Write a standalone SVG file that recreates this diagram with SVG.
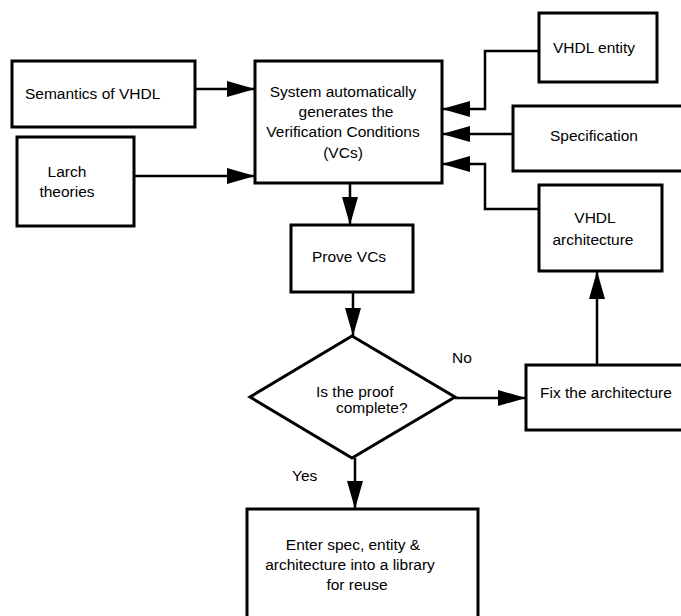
<svg xmlns="http://www.w3.org/2000/svg" width="681" height="616" viewBox="0 0 681 616">
<defs>
<style>
.box{fill:#fff;stroke:#000;stroke-width:3}
.ln{fill:none;stroke:#000;stroke-width:2.5}
text{font-family:"Liberation Sans",Arial,sans-serif;font-size:15.5px;fill:#000}
.c{text-anchor:middle}
</style>
<marker id="ah" viewBox="0 0 28 16" refX="28" refY="8" markerWidth="28" markerHeight="16" markerUnits="userSpaceOnUse" orient="auto">
<path d="M0,0 L28,8 L0,16 Z" fill="#000"/>
</marker>
</defs>
<rect width="681" height="616" fill="#fff"/>
<g id="connectors">
<path class="ln" d="M195,89 H255" marker-end="url(#ah)"/>
<path class="ln" d="M134,176 H255" marker-end="url(#ah)"/>
<path class="ln" d="M539,51 H485 V109 H442" marker-end="url(#ah)"/>
<path class="ln" d="M513,134 H442" marker-end="url(#ah)"/>
<path class="ln" d="M539,209 H485 V164 H442" marker-end="url(#ah)"/>
<path class="ln" d="M350,183 V225" marker-end="url(#ah)"/>
<path class="ln" d="M353,292 V336" marker-end="url(#ah)"/>
<path class="ln" d="M455,398 H526" marker-end="url(#ah)"/>
<path class="ln" d="M597,365 V271" marker-end="url(#ah)"/>
<path class="ln" d="M355,458 V509" marker-end="url(#ah)"/>
</g>
<g id="semantics">
<rect class="box" x="12" y="61" width="183" height="66"/>
<text x="25" y="99">Semantics of VHDL</text>
</g>
<g id="larch">
<rect class="box" x="17" y="137" width="117" height="89"/>
<text class="c" x="67" y="177">Larch</text>
<text class="c" x="67" y="197">theories</text>
</g>
<g id="system">
<rect class="box" x="255" y="61" width="187" height="122"/>
<text class="c" x="343" y="97">System automatically</text>
<text class="c" x="346" y="117">generates the</text>
<text class="c" x="343" y="137">Verification Conditions</text>
<text class="c" x="343" y="158">(VCs)</text>
</g>
<g id="entity">
<rect class="box" x="539" y="13" width="118" height="69"/>
<text x="553" y="53">VHDL entity</text>
</g>
<g id="specification">
<rect class="box" x="513" y="106" width="180" height="65"/>
<text x="550" y="141">Specification</text>
</g>
<g id="architecture">
<rect class="box" x="539" y="185" width="123" height="86"/>
<text class="c" x="595" y="223">VHDL</text>
<text class="c" x="593" y="245">architecture</text>
</g>
<g id="prove">
<rect class="box" x="291" y="225" width="122" height="67"/>
<text x="312" y="262">Prove VCs</text>
</g>
<g id="decision">
<path class="box" d="M352,336 L455,397 L352,458 L250,397 Z"/>
<text x="316" y="397">Is the proof</text>
<text x="336" y="413">complete?</text>
</g>
<text x="452" y="363">No</text>
<text x="292" y="481">Yes</text>
<g id="fix">
<rect class="box" x="526" y="365" width="170" height="65"/>
<text x="540" y="398">Fix the architecture</text>
</g>
<g id="library">
<rect class="box" x="247" y="509" width="231" height="120"/>
<text class="c" x="353" y="550">Enter spec, entity &amp;</text>
<text class="c" x="350" y="570">architecture into a library</text>
<text class="c" x="357" y="590">for reuse</text>
</g>
</svg>
